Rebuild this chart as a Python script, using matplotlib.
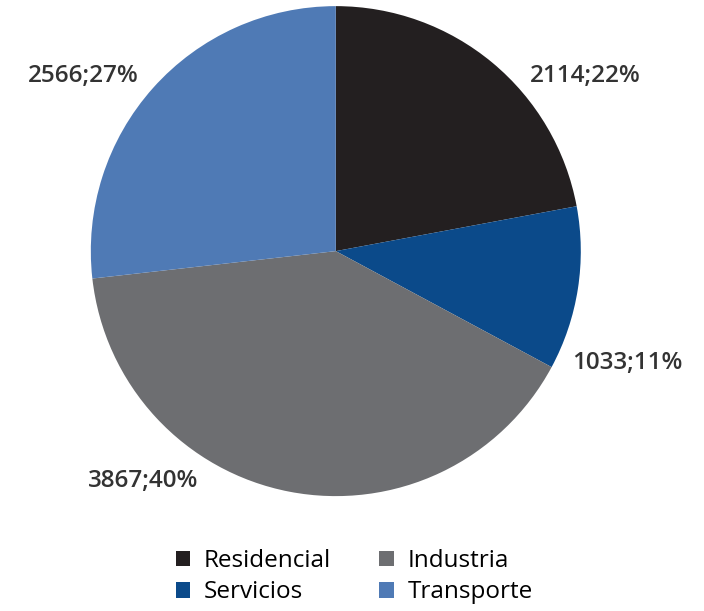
import matplotlib.pyplot as plt

sectores = ["Residencial", "Servicios", "Industria", "Transporte"]
consumo = [2114, 1033, 3867, 2566]
porcentajes = [22, 11, 40, 27]
colores = ["#231f20", "#0b4a8a", "#6d6e71", "#4f7ab5"]

# posiciones de las etiquetas (coordenadas de datos del pie, radio 1)
pos_etiquetas = [(1.02, 0.714), (1.19, -0.457), (-0.788, -0.939), (-1.029, 0.714)]

plt.rcParams["font.family"] = ["Open Sans", "DejaVu Sans"]

fig = plt.figure(figsize=(7.04, 6.11), dpi=100)
ax = fig.add_axes([0.129, 0.188, 0.696, 0.802])

wedges, _ = ax.pie(consumo, colors=colores, startangle=90, counterclock=False,
                   wedgeprops=dict(linewidth=0))
ax.set_xlim(-1, 1)
ax.set_ylim(-1, 1)
ax.set_aspect("equal")

for (x, y), v, p in zip(pos_etiquetas, consumo, porcentajes):
    ax.text(x, y, f"{v};{p}%", ha="center", va="center", fontsize=17.5,
            fontweight="semibold", color="#333333", clip_on=False)

fig.legend(wedges, sectores, ncol=2, frameon=False, loc="center",
           bbox_to_anchor=(0.503, 0.056), handlelength=0.6,
           handleheight=0.6, handletextpad=0.55, columnspacing=2.0,
           labelspacing=0.3, prop=dict(family="Open Sans", size=17.5))

fig.savefig("out.png", dpi=100)
